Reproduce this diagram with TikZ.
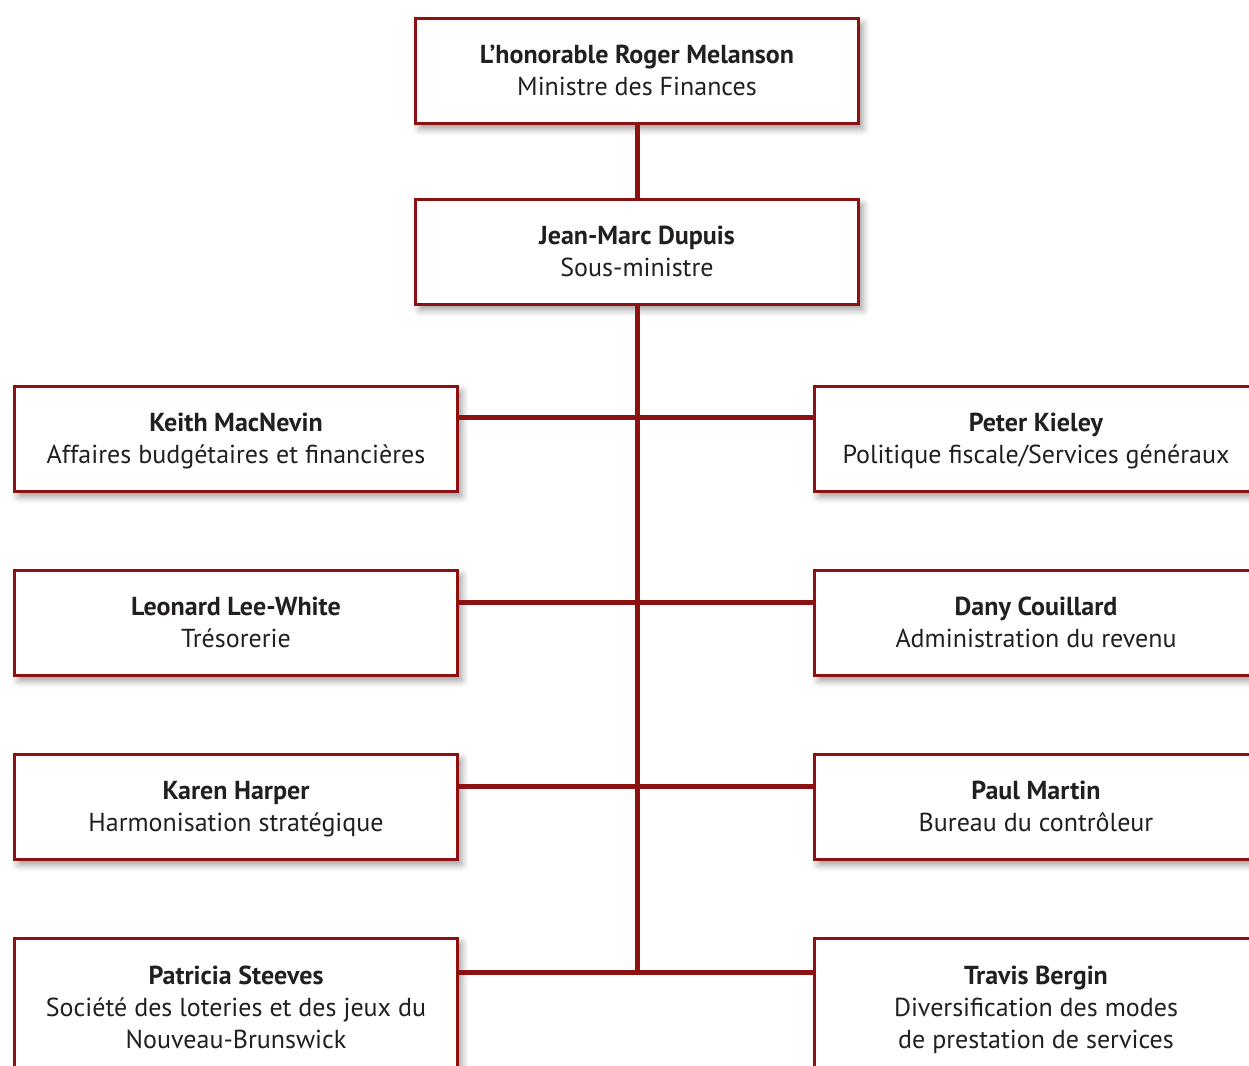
\documentclass[tikz,border=0pt]{standalone}
\usepackage{fontspec}
\setmainfont{PT Sans}
\usepackage{tikz}
\usetikzlibrary{shadows.blur}

\newcommand{\pers}[2]{\rule{0pt}{26.4pt}\textbf{#1}\\#2\strut}

\begin{document}
\begin{tikzpicture}
		[x=1pt,y=-1pt,line cap=rect,
		%Styles
		person box/.style={draw=boxred,line width=3pt,fill=white,text=textgray,
			minimum width=443pt,minimum height=105pt,inner sep=0pt,align=center,
			font=\fontsize{26}{32}\selectfont,
			blur shadow={shadow xshift=4pt,shadow yshift=-5pt,shadow blur radius=7pt,shadow opacity=40}},
		tall box/.style={person box,minimum height=140pt},
		link/.style={draw=boxred,line width=5pt}
		]
		
		%Colors
		\definecolor{boxred}{HTML}{8C1111}
		\definecolor{textgray}{HTML}{231F20}
		
		%The frame
		\useasboundingbox (0,0) rectangle (1249,1065);
		\clip (0,0) rectangle (1249,1065);
		
		%The graphic
		\coordinate (bottom) at (637,972);
		
		\node[person box] (min) at (637,71) {\pers{L’honorable Roger Melanson}{Ministre des Finances}};
		\node[person box] (dm) at (637,252) {\pers{Jean-Marc Dupuis}{Sous-ministre}};
		
		\node[person box] (keith) at (236,439) {\pers{Keith MacNevin}{Affaires budgétaires et financières}};
		\node[person box] (leonard) at (236,623) {\pers{Leonard Lee-White}{Trésorerie}};
		\node[person box] (karen) at (236,807) {\pers{Karen Harper}{Harmonisation stratégique}};
		\node[tall box] (patricia) at (236,1008) {\pers{Patricia Steeves}{Société des loteries et des jeux du\\Nouveau-Brunswick}};
		
		\node[person box] (peter) at (1036,439) {\pers{Peter Kieley}{Politique fiscale/Services généraux}};
		\node[person box] (dany) at (1036,623) {\pers{Dany Couillard}{Administration du revenu}};
		\node[person box] (paul) at (1036,807) {\pers{Paul Martin}{Bureau du contrôleur}};
		\node[tall box] (travis) at (1036,1008) {\pers{Travis Bergin}{Diversification des modes\\de prestation de services}};
		
		\draw[link] (min.south) -- (dm.north);
		\draw[link] (dm.south) -- (bottom);
		\draw[link] (keith.east |- 0,417) -- (peter.west |- 0,417);
		\draw[link] (leonard.east |- 0,602) -- (dany.west |- 0,602);
		\draw[link] (karen.east |- 0,786) -- (paul.west |- 0,786);
		\draw[link] (patricia.east |- bottom) -- (travis.west |- bottom);
	\end{tikzpicture}
\end{document}
